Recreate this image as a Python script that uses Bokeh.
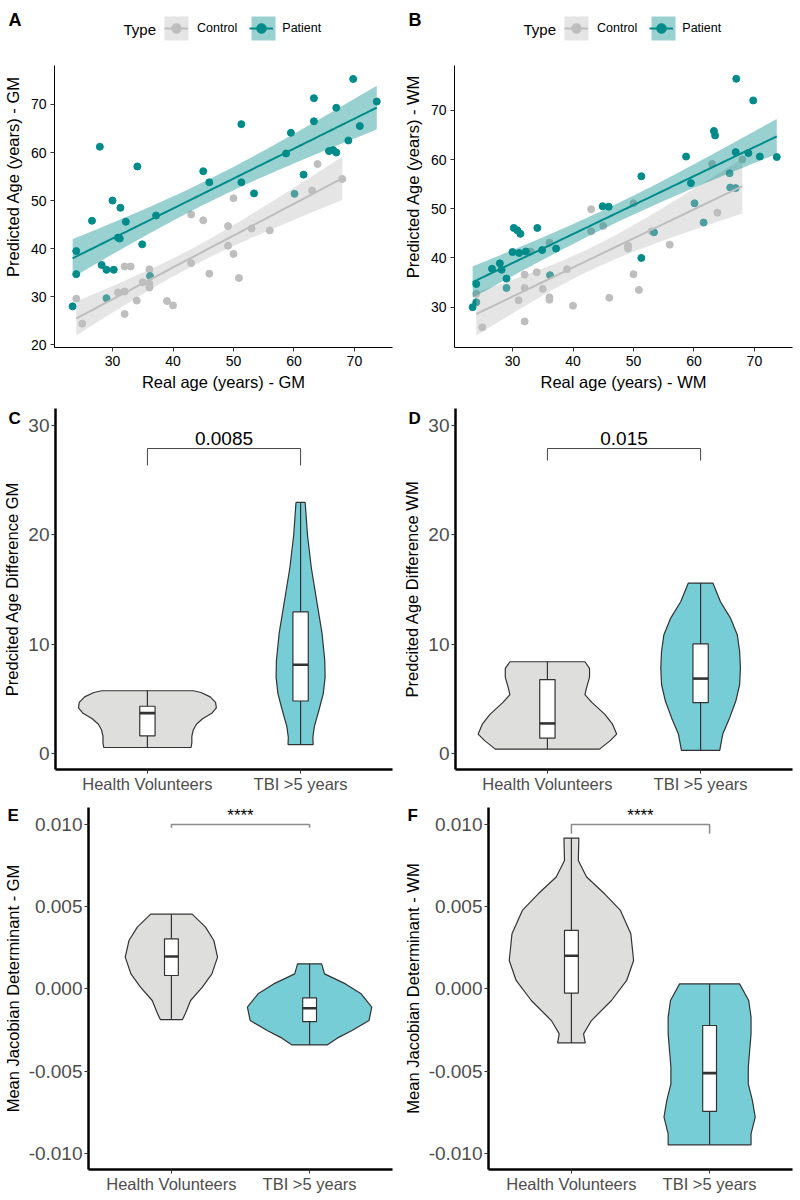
import numpy as np
from bokeh.plotting import figure
from bokeh.models import Legend, LegendItem, FixedTicker, NumeralTickFormatter, Range1d, Title, Label
from bokeh.layouts import column, row
from bokeh.embed import file_html
from bokeh.resources import INLINE

FONT = "Liberation Sans"
CTRL = "#BEBEBE"
PAT = "#008B8B"
HV_FILL = "#DEDEDC"
TBI_FILL = "#76CDD6"
EDGE = "#333333"

types = ["Control", "Patient"]
groups = ["Health Volunteers", "TBI >5 years"]

# ---------------- Panel A (GM) ----------------
gm_ctrl_real = [24.0, 25.0, 30.9, 32.0, 32.0, 32.0, 33.0, 34.0, 35.0, 36.1, 36.1, 36.1, 39.0, 40.0,
                43.0, 43.0, 45.0, 46.0, 49.1, 49.1, 50.0, 50.0, 50.9, 53.0, 56.0, 63.0, 63.9, 68.0]
gm_ctrl_pred = [29.6, 24.4, 30.9, 36.3, 31.1, 26.4, 36.3, 29.2, 33.0, 35.7, 32.7, 31.9, 29.1, 28.2,
                47.1, 37.0, 45.9, 34.8, 44.7, 40.6, 38.9, 50.5, 33.9, 44.2, 43.8, 52.1, 57.6, 54.5]
gm_pat_real = [23.4, 24.0, 24.0, 26.6, 27.9, 28.2, 29.0, 29.0, 30.0, 30.2, 30.9, 31.2, 31.3, 32.2,
               34.1, 34.9, 36.2, 37.2, 45.0, 46.0, 51.3, 51.3, 53.4, 58.7, 59.5, 60.1, 61.6, 63.3,
               63.3, 65.8, 66.5, 67.0, 67.0, 69.0, 69.8, 70.9, 73.7]
gm_pat_pred = [28.0, 39.5, 34.7, 45.8, 61.2, 36.6, 35.6, 29.7, 50.0, 35.6, 42.3, 42.1, 48.5, 45.6,
               57.1, 40.9, 34.3, 46.9, 56.1, 53.8, 65.9, 53.8, 51.5, 59.8, 64.1, 51.4, 55.4, 71.3,
               66.5, 60.3, 60.5, 60.0, 69.3, 62.5, 75.3, 65.5, 70.6]

# ---------------- Panel B (WM) ----------------
wm_ctrl_real = [24.0, 25.0, 31.0, 32.0, 32.0, 32.0, 33.0, 34.0, 35.0, 36.1, 36.1, 36.1, 39.0, 40.0,
                43.0, 43.0, 45.0, 46.0, 49.1, 49.1, 50.0, 50.0, 50.9, 53.0, 56.0, 63.0, 63.9, 68.0]
wm_ctrl_pred = [32.7, 25.9, 31.4, 36.6, 33.9, 27.1, 41.3, 37.1, 33.7, 43.1, 32.0, 31.5, 37.7, 30.3,
                49.9, 45.4, 46.5, 31.9, 42.5, 41.9, 51.1, 36.7, 33.5, 45.4, 42.7, 59.1, 49.2, 60.0]
wm_pat_real = [23.4, 24.0, 24.0, 26.6, 27.9, 28.2, 29.0, 29.0, 30.0, 30.2, 30.8, 31.3, 31.1, 32.2,
               34.1, 34.9, 36.2, 37.2, 44.9, 45.9, 51.3, 51.3, 53.4, 58.7, 59.5, 60.1, 61.6, 63.3,
               63.5, 65.9, 66.0, 66.9, 66.9, 67.0, 69.0, 69.8, 70.9, 73.7]
wm_pat_pred = [30.0, 34.7, 31.0, 37.8, 38.9, 37.6, 35.8, 33.9, 41.2, 46.1, 45.6, 44.9, 41.0, 41.3,
               46.1, 41.6, 36.5, 41.9, 50.5, 50.4, 40.0, 56.6, 45.2, 60.6, 55.2, 51.1, 47.2, 65.8,
               64.9, 57.2, 54.3, 54.2, 61.5, 76.4, 61.3, 72.0, 60.6, 60.5]

x_ticks_age = [30, 40, 50, 60, 70]
y_ticks_gm = [20, 30, 40, 50, 60, 70]
y_ticks_wm = [30, 40, 50, 60, 70]

# ---------------- Violin profiles (value, half-width) ----------------
c_hv_y = [5.76, 5.6, 5.2, 4.7, 4.2, 3.7, 3.2, 2.7, 2.2, 1.6, 1.0, 0.57]
c_hv_w = [0.30, 0.35, 0.41, 0.445, 0.45, 0.42, 0.36, 0.32, 0.30, 0.29, 0.29, 0.285]
c_tbi_y = [22.97, 20.0, 17.0, 14.0, 11.0, 8.5, 7.0, 5.5, 4.0, 2.5, 1.5, 0.84]
c_tbi_w = [0.03, 0.045, 0.07, 0.105, 0.14, 0.158, 0.16, 0.148, 0.12, 0.09, 0.08, 0.082]
c_hv_box = [1.63, 3.71, 4.34]
c_tbi_box = [4.82, 8.14, 12.96]

d_hv_y = [8.41, 7.8, 7.0, 6.0, 5.4, 4.7, 3.6, 2.7, 1.8, 1.2, 0.42]
d_hv_w = [0.245, 0.275, 0.275, 0.255, 0.245, 0.29, 0.375, 0.425, 0.452, 0.41, 0.34]
d_tbi_y = [15.6, 13.9, 12.4, 10.85, 9.35, 7.84, 6.33, 4.82, 3.3, 1.81, 0.3]
d_tbi_w = [0.08, 0.13, 0.195, 0.24, 0.255, 0.26, 0.255, 0.23, 0.19, 0.145, 0.125]
d_hv_box = [1.42, 2.77, 6.78]
d_tbi_box = [4.67, 6.87, 10.04]

e_hv_y = [0.00454, 0.00375, 0.00294, 0.00193, 0.00091, 0.0001, -0.00071, -0.00152, -0.00187]
e_hv_w = [0.15, 0.247, 0.307, 0.334, 0.293, 0.224, 0.139, 0.10, 0.08]
e_tbi_y = [0.00152, 0.00091, 0.0003, -0.0003, -0.00112, -0.00193, -0.00254, -0.0030, -0.00341]
e_tbi_w = [0.087, 0.108, 0.26, 0.373, 0.45, 0.43, 0.307, 0.20, 0.127]
e_hv_box = [0.00081, 0.00197, 0.00304]
e_tbi_box = [-0.00199, -0.00118, -0.00055]

f_hv_y = [0.00917, 0.0078, 0.0068, 0.00578, 0.00477, 0.00335, 0.00172, 0.00051, -0.00071, -0.00193, -0.00274, -0.00329]
f_hv_w = [0.054, 0.05, 0.11, 0.24, 0.355, 0.43, 0.45, 0.40, 0.29, 0.145, 0.088, 0.10]
f_tbi_y = [0.0003, -0.00071, -0.00172, -0.00274, -0.00375, -0.00477, -0.00578, -0.0068, -0.00781, -0.00882, -0.00949]
f_tbi_w = [0.217, 0.283, 0.30, 0.30, 0.29, 0.28, 0.28, 0.31, 0.33, 0.30, 0.30]
f_hv_box = [-0.00026, 0.00201, 0.00355]
f_tbi_box = [-0.00746, -0.00513, -0.00223]

age_ticks = [0, 10, 20, 30]
jac_ticks = [-0.010, -0.005, 0.0, 0.005, 0.010]

T975 = {26: 2.056, 35: 2.030, 36: 2.028}


def smooth(x, y):
    x = np.asarray(x, float)
    y = np.asarray(y, float)
    n = len(x)
    b, a = np.polyfit(x, y, 1)
    xs = np.linspace(x.min(), x.max(), 80)
    fit = a + b * xs
    resid = y - (a + b * x)
    s = np.sqrt((resid ** 2).sum() / (n - 2))
    sxx = ((x - x.mean()) ** 2).sum()
    se = s * np.sqrt(1.0 / n + (xs - x.mean()) ** 2 / sxx)
    t = T975.get(n - 2, 2.03)
    return xs, fit, fit - t * se, fit + t * se


def base_fig(bl, br, bt, bb, xr, yr):
    p = figure(width=400, height=400, output_backend="svg", toolbar_location=None,
               x_range=Range1d(*xr), y_range=Range1d(*yr),
               min_border_left=bl, min_border_right=br, min_border_top=bt, min_border_bottom=bb)
    p.grid.visible = False
    p.outline_line_color = None
    p.background_fill_color = "white"
    p.border_fill_color = "white"
    return p


def add_letter(p, txt, offset, standoff, size):
    p.add_layout(Title(text=txt, align="left", offset=offset, standoff=standoff,
                       vertical_align="bottom", text_font=FONT, text_font_style="bold",
                       text_font_size=size, text_color="black"), "above")


# scatter panels: axes box from y=65 to y=347 (px); frame extended to the top for the legend
PLOT_TOP, FRAME_TOP, FRAME_BOTTOM = 65, 5, 347


def scatter_panel(let, cx, cy, px_, py_, yr, yticks, xlab, ylab):
    per_px = (yr[1] - yr[0]) / (FRAME_BOTTOM - PLOT_TOP)
    y_top = yr[1] + (PLOT_TOP - FRAME_TOP) * per_px
    p = base_fig(54, 8, FRAME_TOP, 400 - FRAME_BOTTOM, (20.4, 76.3), (yr[0], y_top))
    rc = p.scatter(cx, cy, size=7, color=CTRL)
    rp = p.scatter(px_, py_, size=7, color=PAT)
    bg_items, fg_items = [], []
    for (xx, yy, col, name, pts) in [(cx, cy, CTRL, types[0], rc), (px_, py_, PAT, types[1], rp)]:
        xs, f, lo, hi = smooth(xx, yy)
        band = p.varea(x=xs, y1=lo, y2=hi, fill_color=col, fill_alpha=0.4)
        ln = p.line(xs, f, line_color=col, line_width=2)
        bg_items.append(LegendItem(label="", renderers=[band]))
        fg_items.append(LegendItem(label=name, renderers=[ln, pts]))
    leg_bg = Legend(items=bg_items, orientation="horizontal", location=(107, FRAME_BOTTOM - 43),
                    glyph_width=30, glyph_height=30, label_standoff=0, spacing=37,
                    padding=0, margin=0, border_line_color=None, background_fill_alpha=0,
                    label_text_font=FONT, label_text_font_size="12.5px")
    leg_fg = Legend(items=fg_items, orientation="horizontal", location=(110, FRAME_BOTTOM - 40),
                    glyph_width=24, glyph_height=24, label_standoff=9, spacing=12,
                    padding=0, margin=0, border_line_color=None, background_fill_alpha=0,
                    label_text_font=FONT, label_text_font_size="12.5px", label_text_color="black")
    p.add_layout(leg_bg)
    p.add_layout(leg_fg)
    p.add_layout(Label(x=69, y=FRAME_BOTTOM - 29, x_units="screen", y_units="screen", text="Type",
                       text_font=FONT, text_font_size="15px", text_baseline="middle",
                       text_color="black"))
    add_letter(p, let, -46, -48, "18px")
    p.xaxis.ticker = FixedTicker(ticks=x_ticks_age)
    p.yaxis.ticker = FixedTicker(ticks=yticks)
    p.yaxis.bounds = (yr[0], yr[1])
    p.xaxis.axis_label = xlab
    p.yaxis.axis_label = ylab
    for ax in (p.xaxis[0], p.yaxis[0]):
        ax.axis_line_color = "black"
        ax.axis_line_width = 1
        ax.major_tick_line_color = "#333333"
        ax.major_tick_out = 4
        ax.major_tick_in = 0
        ax.minor_tick_line_color = None
        ax.major_label_text_font = FONT
        ax.major_label_text_font_size = "14px"
        ax.major_label_text_color = "black"
        ax.major_label_standoff = 4
        ax.axis_label_text_font = FONT
        ax.axis_label_text_font_size = "16.5px"
        ax.axis_label_text_font_style = "normal"
        ax.axis_label_text_color = "black"
    p.xaxis.axis_label_standoff = 4
    p.yaxis.axis_label_standoff = 6
    return p


def violin_panel(let, let_off, bl, bt, yr, yticks, fmt, ylab, hv, tbi, hv_box, tbi_box,
                 br_y, br_tick, br_col, br_w, ptxt, ptxt_y, ptxt_size, ptxt_base, let_standoff):
    p = base_fig(bl, 8, bt, 31, (0.4, 2.6), yr)
    for c, (ys, ws), box, fill in [(1, hv, hv_box, HV_FILL), (2, tbi, tbi_box, TBI_FILL)]:
        xs = [c - w for w in ws] + [c + w for w in ws[::-1]]
        yy = list(ys) + list(ys[::-1])
        p.patch(xs, yy, fill_color=fill, line_color=EDGE, line_width=1.2)
        p.segment(x0=[c], y0=[min(ys)], x1=[c], y1=[max(ys)], line_color=EDGE, line_width=1.2)
        p.quad(left=[c - 0.05], right=[c + 0.05], bottom=[box[0]], top=[box[2]],
               fill_color="white", line_color=EDGE, line_width=1.2)
        p.segment(x0=[c - 0.05], y0=[box[1]], x1=[c + 0.05], y1=[box[1]],
                  line_color=EDGE, line_width=2.6)
    p.line([1, 1, 2, 2], [br_tick, br_y, br_y, br_tick], line_color=br_col, line_width=br_w)
    p.text(x=[1.5], y=[ptxt_y], text=[ptxt], text_font={"value": FONT}, text_font_size={"value": ptxt_size},
           text_align="center", text_baseline=ptxt_base, text_color="black")
    add_letter(p, let, let_off, let_standoff, "17px")
    p.xaxis.ticker = FixedTicker(ticks=[1, 2])
    p.xaxis.major_label_overrides = {1: groups[0], 2: groups[1]}
    p.yaxis.ticker = FixedTicker(ticks=yticks)
    if fmt:
        p.yaxis.formatter = NumeralTickFormatter(format=fmt)
    p.yaxis.axis_label = ylab
    for ax in (p.xaxis[0], p.yaxis[0]):
        ax.axis_line_color = "black"
        ax.axis_line_width = 2.5
        ax.major_tick_line_color = "#333333"
        ax.major_tick_line_width = 1
        ax.major_tick_out = 4
        ax.major_tick_in = 0
        ax.minor_tick_line_color = None
        ax.major_label_text_font = FONT
        ax.major_label_text_color = "#4D4D4D"
        ax.axis_label_text_font = FONT
        ax.axis_label_text_font_size = "16.5px"
        ax.axis_label_text_font_style = "normal"
        ax.axis_label_text_color = "black"
    p.yaxis.major_label_text_font_size = "19px"
    p.yaxis.major_label_standoff = 2
    p.yaxis.axis_label_standoff = 4
    p.xaxis.major_label_text_font_size = "16.5px"
    p.xaxis.major_label_standoff = 1
    return p


pA = scatter_panel("A", gm_ctrl_real, gm_ctrl_pred, gm_pat_real, gm_pat_pred, (19.44, 78.1), y_ticks_gm,
                   "Real age (years) - GM", "Predicted Age (years) - GM")
pB = scatter_panel("B", wm_ctrl_real, wm_ctrl_pred, wm_pat_real, wm_pat_pred, (21.8, 79.1), y_ticks_wm,
                   "Real age (years) - WM", "Predicted Age (years) - WM")

pC = violin_panel("C", -47, 54, 8, (-1.44, 31.56), age_ticks, None, "Predcited Age Difference GM",
                  (c_hv_y, c_hv_w), (c_tbi_y, c_tbi_w), c_hv_box, c_tbi_box,
                  27.9, 26.35, "#444444", 1, "0.0085", 28.2, "19px", "bottom", -39)
pD = violin_panel("D", -47, 54, 8, (-1.44, 31.56), age_ticks, None, "Predcited Age Difference WM",
                  (d_hv_y, d_hv_w), (d_tbi_y, d_tbi_w), d_hv_box, d_tbi_box,
                  27.9, 26.8, "#444444", 1, "0.015", 28.2, "19px", "bottom", -39)
pE = violin_panel("E", -81, 88, 7, (-0.01099, 0.01103), jac_ticks, "0.000", "Mean Jacobian Determinant - GM",
                  (e_hv_y, e_hv_w), (e_tbi_y, e_tbi_w), e_hv_box, e_tbi_box,
                  0.0100, 0.0098, "#8C8C8C", 1.5, "****", 0.01056, "17px", "middle", -35)
pF = violin_panel("F", -81, 88, 7, (-0.01099, 0.01103), jac_ticks, "0.000", "Mean Jacobian Determinant - WM",
                  (f_hv_y, f_hv_w), (f_tbi_y, f_tbi_w), f_hv_box, f_tbi_box,
                  0.0100, 0.00943, "#8C8C8C", 1.5, "****", 0.01056, "17px", "middle", -35)

layout = column(row(pA, pB), row(pC, pD), row(pE, pF))
open("out.html", "w").write(file_html(layout, INLINE, title="Brain age"))
